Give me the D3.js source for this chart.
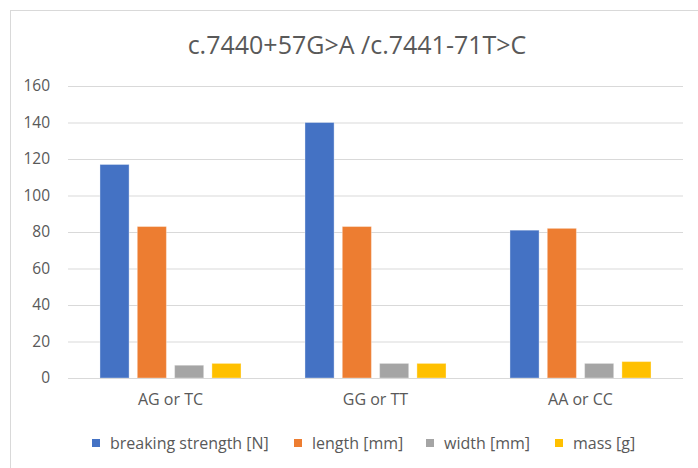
<!DOCTYPE html>
<html>
<head>
<meta charset="utf-8">
<script src="https://cdn.jsdelivr.net/npm/d3@7"></script>
<style>
  html, body { margin: 0; padding: 0; background: #fff; }
  svg { display: block; }
  text { font-family: "Open Sans", "Noto Sans", sans-serif; fill: #595959; }
</style>
</head>
<body>
<svg id="chart" width="698" height="468"></svg>
<script>
const title = "c.7440+57G>A /c.7441-71T>C";
const categories = ["AG or TC", "GG or TT", "AA or CC"];
const seriesNames = ["breaking strength [N]", "length [mm]", "width [mm]", "mass [g]"];
const breakingStrength = [117, 140, 81];
const lengthMm = [83, 83, 82];
const widthMm = [7, 8, 8];
const massG = [8, 8, 9];
const yTicks = [0, 20, 40, 60, 80, 100, 120, 140, 160];
const colors = ["#4472C4", "#ED7D31", "#A5A5A5", "#FFC000"];

const seriesValues = [breakingStrength, lengthMm, widthMm, massG];

const svg = d3.select("#chart");
const W = 698, H = 468;
const plot = { left: 68, right: 683, top: 86, bottom: 378 };

// chart frame
svg.append("rect").attr("x", 10.5).attr("y", 10.5).attr("width", W + 10).attr("height", H + 10)
  .attr("fill", "#fff").attr("stroke", "#d9d9d9").attr("stroke-width", 1);

// title
svg.append("text").attr("x", 357).attr("y", 54).attr("text-anchor", "middle")
  .attr("font-size", 25).text(title);

const y = d3.scaleLinear().domain([0, 160]).range([plot.bottom, plot.top]);
const x0 = d3.scaleBand().domain(categories).range([plot.left, plot.right])
  .paddingInner(0.312).paddingOuter(0.156);
const x1 = d3.scaleBand().domain(seriesNames).range([0, x0.bandwidth()]).paddingInner(0.22);

// gridlines
const yAxis = d3.axisLeft(y).tickValues(yTicks).tickSize(-(plot.right - plot.left)).tickPadding(18);
const gy = svg.append("g").attr("transform", `translate(${plot.left},0)`).call(yAxis);
gy.select(".domain").remove();
gy.selectAll(".tick line").attr("stroke", "#d9d9d9").attr("stroke-width", 1);
gy.selectAll(".tick text").attr("font-size", 15.5).attr("fill", "#595959")
  .style("font-family", '"Open Sans", sans-serif');

// bars
const groups = svg.append("g").selectAll("g").data(categories).join("g")
  .attr("transform", d => `translate(${x0(d)},0)`);
groups.selectAll("rect")
  .data((c, ci) => seriesNames.map((s, si) => ({ s, si, v: seriesValues[si][ci] })))
  .join("rect")
  .attr("x", d => x1(d.s))
  .attr("width", x1.bandwidth())
  .attr("y", d => y(d.v))
  .attr("height", d => y(0) - y(d.v))
  .attr("fill", d => colors[d.si])
  .attr("stroke", "#fff").attr("stroke-opacity", 0.35).attr("stroke-width", 1);

// x axis baseline + labels
const xAxis = d3.axisBottom(x0).tickSize(0).tickPadding(16);
const gx = svg.append("g").attr("transform", `translate(0,${plot.bottom})`).call(xAxis);
gx.select(".domain").attr("stroke", "#d9d9d9").attr("d", `M${plot.left},0.5H${plot.right}`);
gx.selectAll(".tick text").attr("font-size", 16).attr("fill", "#595959")
  .style("font-family", '"Open Sans", sans-serif');

// legend
const legendX = [92, 294, 426, 555];
const lg = svg.append("g").selectAll("g").data(seriesNames).join("g")
  .attr("transform", (d, i) => `translate(${legendX[i]},443)`);
lg.append("rect").attr("x", 0).attr("y", -4).attr("width", 8).attr("height", 8)
  .attr("fill", (d, i) => colors[i]);
lg.append("text").attr("x", 18).attr("y", 0).attr("dy", "0.35em")
  .attr("font-size", 16).text(d => d);
</script>
</body>
</html>
